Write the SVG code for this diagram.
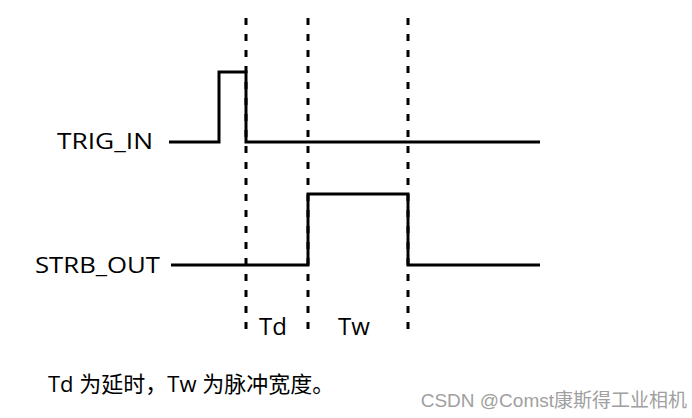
<svg xmlns="http://www.w3.org/2000/svg" width="692" height="418" viewBox="0 0 692 418">
<style>
.sig{fill:none;stroke:#000;stroke-width:3;stroke-linejoin:miter}
.dash{stroke:#000;stroke-width:3;stroke-dasharray:7 9}
.lbl{font-family:"Open Sans","Liberation Sans",sans-serif;font-size:21px;fill:#000}
.tl{font-family:"Open Sans","Liberation Sans",sans-serif;font-size:24px;fill:#000}
.cap{font-family:"Open Sans","Noto Sans CJK SC",sans-serif;font-size:22px;fill:#000}
.wm{font-family:"Liberation Sans","Noto Sans CJK SC",sans-serif;font-size:19px;fill:#a0a0a0}
</style>
<rect width="692" height="418" fill="#fff"/>
<g id="guides">
<line class="dash" x1="246" y1="18" x2="246" y2="336"/>
<line class="dash" x1="308" y1="18" x2="308" y2="336"/>
<line class="dash" x1="408" y1="18" x2="408" y2="336"/>
</g>
<g id="trig_in">
<text class="lbl" x="57" y="149" textLength="96" lengthAdjust="spacingAndGlyphs">TRIG_IN</text>
<polyline class="sig" points="169,142 219,142 219,72 246,72 246,142 540,142"/>
</g>
<g id="strb_out">
<text class="lbl" x="35" y="273" textLength="125" lengthAdjust="spacingAndGlyphs">STRB_OUT</text>
<polyline class="sig" points="171,265 308,265 308,194 408,194 408,265 540,265"/>
</g>
<g id="labels">
<text class="tl" x="259" y="335">Td</text>
<text class="tl" x="338" y="335">Tw</text>
</g>
<text class="cap" x="48" y="392">Td 为延时，Tw 为脉冲宽度。</text>
<text class="wm" x="687" y="407" text-anchor="end">CSDN @Comst康斯得工业相机</text>
</svg>
